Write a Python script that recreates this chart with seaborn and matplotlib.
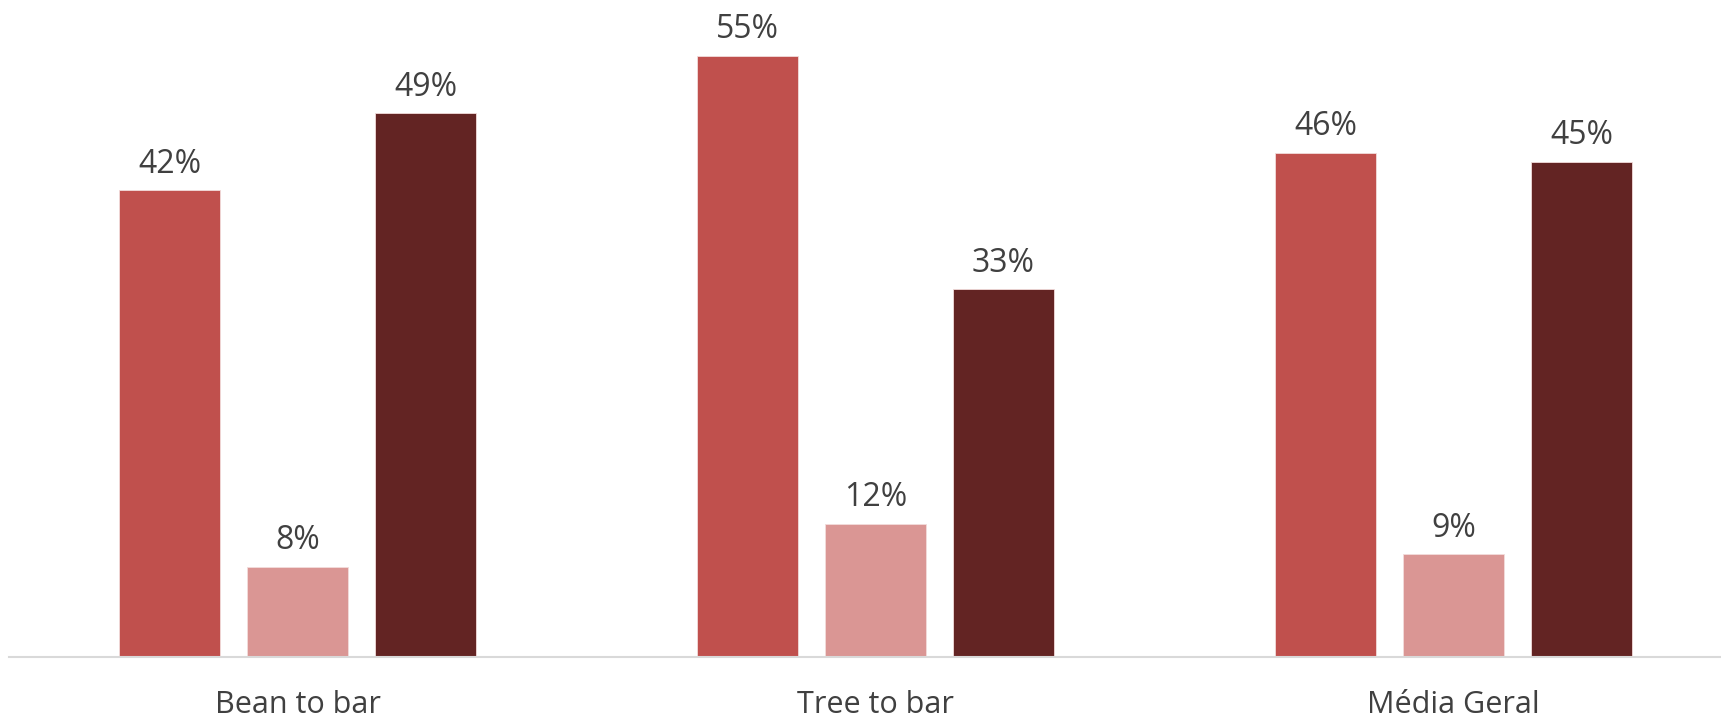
import pandas as pd
import matplotlib
matplotlib.use("Agg")
import matplotlib.pyplot as plt
import seaborn as sns

# values (percent)
categories = ['Bean to bar', 'Tree to bar', 'Média Geral']
series_names = ['Série 1', 'Série 2', 'Série 3']
serie_1 = [42.4, 54.6, 45.8]
serie_2 = [8.2, 12.1, 9.3]
serie_3 = [49.4, 33.4, 45.0]
colors = ['#C0504D', '#DA9694', '#632423']

df = pd.DataFrame({
    'categoria': categories * 3,
    'serie': [s for s in series_names for _ in categories],
    'valor': serie_1 + serie_2 + serie_3,
})

sns.set_style('white')
plt.rcParams['font.family'] = ['Open Sans', 'DejaVu Sans']

fig = plt.figure(figsize=(17.21, 7.18), dpi=100)
# plot area is wider than the picture, like the cropped original
ax = fig.add_axes([8.5 / 1721, 61.3 / 718, 1734 / 1721, 649 / 718])

sns.barplot(data=df, x='categoria', y='valor', hue='serie', order=categories,
            hue_order=series_names, palette=colors, saturation=1,
            width=0.6645, gap=0.21, edgecolor='#F2DCDB', linewidth=0.6,
            legend=False, ax=ax)

for cont in ax.containers:
    ax.bar_label(cont, fmt='{:.0f}%', padding=7, fontsize=23, color='#404040')

ax.set_xlim(-0.5, 2.5)
ax.set_ylim(0, 59)
ax.set_xlabel('')
ax.set_ylabel('')
ax.set_yticks([])
ax.tick_params(axis='x', length=0, pad=24, labelsize=22, labelcolor='#404040')
for side in ['top', 'right', 'left']:
    ax.spines[side].set_visible(False)
ax.spines['bottom'].set_color('#D9D9D9')
ax.spines['bottom'].set_linewidth(1.5)

fig.savefig('out.png', dpi=100)
